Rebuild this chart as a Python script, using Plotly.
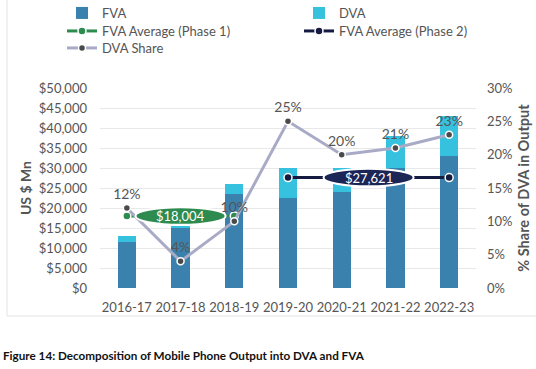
import plotly.graph_objects as go

years = ["2016-17", "2017-18", "2018-19", "2019-20", "2020-21", "2021-22", "2022-23"]
fva = [11450, 14900, 23400, 22500, 24000, 30000, 33100]
dva = [1550, 650, 2600, 7500, 6000, 8000, 9900]
dva_share = [0.12, 0.04, 0.10, 0.25, 0.20, 0.21, 0.23]
share_labels = ["12%", "4%", "10%", "25%", "20%", "21%", "23%"]
phase1_years = ["2016-17", "2018-19"]
phase1_avg = 18004
phase2_years = ["2019-20", "2022-23"]
phase2_avg = 27621

W, H = 536, 369
ML, MR, MT, MB = 100, 60, 88, 81
PW = W - ML - MR
PH = H - MT - MB
FONT = "Lato"
GREY = "#555555"

def px_x(p):
    return (p - ML) / PW

def px_y(p):
    return (H - MB - p) / PH

fig = go.Figure()
fig.add_trace(go.Bar(x=years, y=fva, name="FVA", legend="legend",
                     marker=dict(color="#3a82ad", line=dict(width=0))))
fig.add_trace(go.Bar(x=years, y=dva, name="DVA", legend="legend2",
                     marker=dict(color="#36c2df", line=dict(width=0))))
fig.add_trace(go.Scatter(x=phase1_years, y=[phase1_avg] * len(phase1_years), name="FVA Average (Phase 1)",
                         legend="legend3", mode="lines+markers", line=dict(color="#2e8b4f", width=3),
                         marker=dict(size=8, color="#2e8b4f", line=dict(color="white", width=1.5))))
fig.add_trace(go.Scatter(x=phase2_years, y=[phase2_avg] * len(phase2_years), name="FVA Average (Phase 2)",
                         legend="legend4", mode="lines+markers", line=dict(color="#141a40", width=3),
                         marker=dict(size=8, color="#141a40", line=dict(color="white", width=1.5))))
fig.add_trace(go.Scatter(x=years, y=dva_share, name="DVA Share", yaxis="y2", legend="legend5",
                         mode="lines+markers+text", text=share_labels, textposition="top center",
                         cliponaxis=False,
                         textfont=dict(size=14, color=GREY, family=FONT),
                         line=dict(color="#a9abc6", width=3),
                         marker=dict(size=7, color="#4a4a4a", line=dict(color="white", width=1.5))))

def idx(y):
    return years.index(y)

# average label ellipses
for yrs, avg, col, txt in [(phase1_years, phase1_avg, "#2e8b4f", "$18,004"),
                           (phase2_years, phase2_avg, "#1b2556", "$27,621")]:
    cx = (idx(yrs[0]) + idx(yrs[-1])) / 2
    fig.add_shape(type="circle", xref="x", yref="y", x0=cx - 0.84, x1=cx + 0.84,
                  y0=avg - 2200, y1=avg + 2200, fillcolor=col, line=dict(color="white", width=2),
                  layer="above")
    fig.add_annotation(x=cx, y=avg, xref="x", yref="y", text=txt, showarrow=False,
                       font=dict(color="white", size=13, family=FONT))

# frame lines
fig.add_shape(type="line", xref="paper", yref="paper", x0=px_x(7), x1=px_x(7), y0=px_y(0), y1=px_y(316),
              line=dict(color="#e3e3e3", width=1))
fig.add_shape(type="line", xref="paper", yref="paper", x0=px_x(7), x1=px_x(536), y0=px_y(316), y1=px_y(316),
              line=dict(color="#e3e3e3", width=1))

fig.add_annotation(xref="paper", yref="paper", x=px_x(1), y=px_y(355), xanchor="left", yanchor="middle",
                   text="<b>Figure 14: Decomposition of Mobile Phone Output into DVA and FVA</b>",
                   showarrow=False, font=dict(size=11.7, color="#111111", family=FONT))

def leg(xp, yp):
    return dict(orientation="v", xanchor="left", yanchor="middle", bgcolor="rgba(0,0,0,0)",
                font=dict(size=13, color=GREY, family=FONT), itemwidth=30,
                x=px_x(xp), y=px_y(yp))

fig.update_layout(
    width=W, height=H, margin=dict(l=ML, r=MR, t=MT, b=MB, autoexpand=False),
    barmode="stack", bargap=0.66,
    plot_bgcolor="white", paper_bgcolor="white",
    font=dict(family=FONT, color=GREY),
    showlegend=True,
    legend=leg(62, 13),
    legend2=leg(299, 13),
    legend3=leg(62, 31),
    legend4=leg(299, 31),
    legend5=leg(62, 48),
    xaxis=dict(type="category", tickfont=dict(size=13, color=GREY), tickangle=0, showgrid=False,
               showline=False, ticks="", ticklabelstandoff=10),
    yaxis=dict(range=[0, 50000], dtick=5000, tickprefix="$", tickformat=",",
               tickfont=dict(size=13, color=GREY), gridcolor="#e8e8e8", zeroline=False,
               ticklabelstandoff=12,
               title=dict(text="<b>US $ Mn</b>", font=dict(size=14, color=GREY), standoff=3)),
    yaxis2=dict(range=[0, 0.30], dtick=0.05, tickformat=".0%", overlaying="y", side="right",
                showgrid=False, zeroline=False, tickfont=dict(size=13, color=GREY),
                ticklabelstandoff=10,
                title=dict(text="<b>% Share of DVA in Output</b>", font=dict(size=14.5, color=GREY), standoff=7)),
)

fig.write_html("out.html", config={"displayModeBar": False},
               post_script="document.body.style.margin='0';")
